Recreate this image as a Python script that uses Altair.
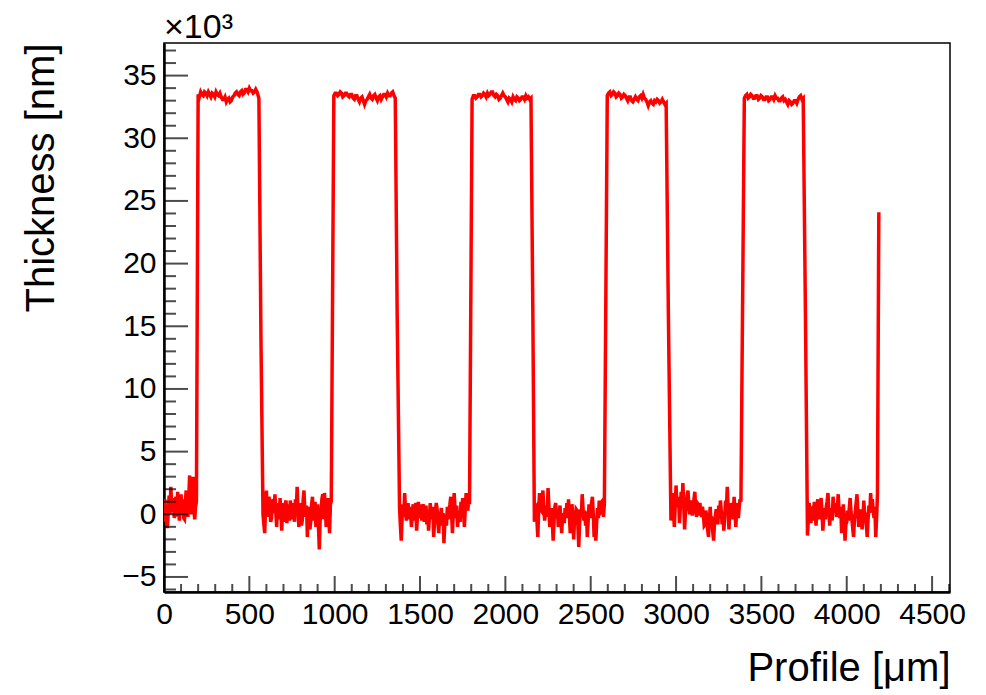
import altair as alt
import pandas as pd

# ---- profile data (thickness in units of 10^3 nm) ----
# each segment: start position [um], sampling step [um], thickness values
v0_start, v0_step = 0, 5
v0 = [0.5, 1.2, -0.6, 0.4, -1.1, 0.2, 1.5, 0.0, 2.2, 0.8, 0.2, 1.3, -0.3, 0.7,
      1.4, -0.2, 1.8, 0.5, -0.5, 0.9, 1.6, 0.1, 1.2, -0.3, -0.4, 1.0, 1.9, 0.2,
      -0.2, 1.2, 3.1, 0.8, 0.0, 1.5, 3.0, 0.4, -0.4, 0.6, 1.0]

p1_start, p1_step = 200, 7.5
p1 = [33.5, 33.3, 33.7, 33.5, 33.4, 33.7, 33.6, 33.4, 33.7, 33.5, 33.3, 33.6,
      33.5, 33.3, 33.7, 33.5, 33.4, 33.6, 33.3, 33.1, 33.1, 33.3, 32.9, 33.1,
      33.2, 32.9, 33.0, 33.3, 33.4, 33.6, 33.7, 33.5, 33.4, 33.7, 33.8, 33.5,
      33.6, 33.9, 33.9, 33.7, 34.0, 33.8, 33.8, 33.6, 33.7, 33.9, 33.7]

v1_start, v1_step = 580, 5
v1 = [0.0, -0.8, -1.5, 0.6, 1.9, -0.2, 0.5, 1.4, 0.9, -0.6, -0.3, 1.0, 1.2, 0.1,
      1.6, 0.2, -1.0, 0.9, 0.4, -0.4, 1.3, 0.2, -1.3, 0.9, 0.3, -0.6, 0.8, 1.1,
      -0.7, 0.8, 0.2, -0.5, 1.1, 0.5, -0.4, 0.9, 0.1, -0.6, 1.2, 0.3, 2.2, 0.5,
      -1.0, 0.9, 0.4, -0.9, -0.5, 1.1, 1.9, 0.4, -0.2, 0.7, -1.8, 0.1, 0.6, -1.2,
      -0.5, 0.8, 1.4, -0.5, 0.0, 1.0, -1.0, 0.3, 0.8, -1.0, -2.8, -0.4, 0.2, 1.2,
      1.6, -0.4, 1.7, 0.6, -1.0, 0.4, 1.3, -0.2, -1.5, 0.8, 1.0]

p2_start, p2_step = 995, 7.5
p2 = [33.4, 33.6, 33.6, 33.4, 33.5, 33.7, 33.6, 33.3, 33.4, 33.6, 33.6, 33.4,
      33.3, 33.5, 33.5, 33.2, 33.1, 33.4, 33.4, 33.1, 32.9, 33.2, 33.3, 33.0,
      32.7, 33.0, 33.1, 33.3, 33.5, 33.2, 33.1, 33.4, 33.5, 33.2, 33.0, 33.3,
      33.4, 33.1, 33.3, 33.5, 33.5, 33.3, 33.6, 33.4, 33.4, 33.6, 33.7, 33.4, 33.2]

v2_start, v2_step = 1380, 5
v2 = [0.5, -0.9, -2.1, -0.3, 0.8, -0.2, 1.7, 0.4, -0.5, 0.5, 0.9, -0.4, 0.6, 0.0,
      -1.0, 0.2, 0.8, -0.5, 0.3, 0.9, -1.3, -0.1, 1.0, -0.3, 0.8, 0.1, -0.5, 0.6,
      0.8, -0.6, 0.0, 0.7, -0.8, 0.2, -1.3, -0.2, 0.9, -0.4, 0.2, 0.6, -1.8, -0.6,
      0.1, 0.9, 0.4, -0.7, -1.5, 0.2, -0.2, 0.5, -0.9, 0.1, -2.3, -0.8, 0.0, -0.9,
      0.6, -0.4, 0.3, 0.8, 1.4, 0.0, -1.5, 0.2, 1.7, 0.5, -0.3, 0.7, -1.0, -0.1,
      0.3, -0.6, 1.0, 0.2, 1.3, 0.1, -1.0, 0.4, 1.7, 0.6, 0.3, 1.2, 0.8]

p3_start, p3_step = 1805, 7.5
p3 = [33.1, 33.4, 33.4, 33.2, 33.3, 33.5, 33.5, 33.3, 33.4, 33.6, 33.5, 33.3,
      33.6, 33.4, 33.5, 33.7, 33.7, 33.4, 33.3, 33.5, 33.4, 33.1, 33.2, 33.4,
      33.6, 33.4, 33.3, 33.1, 32.9, 33.2, 33.1, 32.9, 33.3, 33.1, 33.0, 33.3,
      33.2, 33.0, 33.1, 33.3, 33.3, 33.1, 33.4, 33.2, 33.3, 33.1, 33.2]

v3_start, v3_step = 2170, 5
v3 = [-0.6, 0.5, 0.6, -0.5, -1.8, 0.2, 1.7, 0.4, 0.3, 1.1, 1.9, 0.6, -0.5, 0.3,
      0.7, -0.2, 2.1, 0.7, -1.0, 0.2, 0.5, -0.6, -2.1, -0.6, 0.6, 0.9, -0.3, 0.4,
      -1.0, 0.0, 0.7, -0.4, -1.5, -0.2, 0.1, -0.7, 0.5, -0.3, 0.9, -0.2, 1.2, -0.1,
      -1.5, -0.2, 0.8, 0.1, -2.0, -0.5, -0.8, 0.4, 0.3, -0.9, -2.6, -0.7, 0.4, -0.2,
      1.6, 0.5, -0.5, 0.3, -0.9, 0.2, -1.8, -0.6, 0.8, -0.3, 0.3, 0.9, 1.4, 0.0,
      -1.8, -0.4, -2.1, -0.6, 0.5, -0.3, 1.1, 0.1, 0.2, 1.0, 1.1, -0.2, 0.8]

p4_start, p4_step = 2597, 7.5
p4 = [33.4, 33.6, 33.7, 33.4, 33.5, 33.7, 33.6, 33.3, 33.4, 33.6, 33.5, 33.2,
      33.3, 33.5, 33.4, 33.2, 33.0, 33.3, 33.3, 33.0, 32.9, 33.1, 33.3, 33.1,
      33.0, 33.3, 33.4, 33.2, 33.5, 33.2, 33.1, 32.9, 32.6, 32.9, 33.0, 32.8,
      32.7, 33.0, 32.9, 33.1, 33.0, 32.8, 32.9, 33.1, 32.9, 32.7, 32.8]

v4_start, v4_step = 2970, 5
v4 = [-0.5, 0.8, 1.7, 0.2, -1.0, 0.6, 2.3, 0.9, 0.6, 1.4, -0.7, 0.5, 1.8, 0.7,
      2.5, 0.8, -1.2, 0.1, 0.8, 1.5, 1.9, 0.6, 0.0, 1.1, 0.9, -0.1, 0.3, 1.2,
      1.8, 0.4, -0.2, 0.9, 0.8, -0.1, 0.9, 0.1, -0.2, 0.6, 0.0, -0.9, -0.8, 0.3,
      -0.4, -1.2, -1.8, -0.4, 0.6, -0.6, -0.5, -1.4, -2.1, -0.7, -0.2, 0.4, -0.2,
      -0.8, 0.7, 0.0, 1.1, 0.3, -0.8, 0.2, -1.3, -0.3, 1.1, 0.4, 2.2, 0.5, -1.2,
      0.1, 0.0, 0.9, 0.6, -0.4, 1.4, 0.3, -1.0, 0.2, 0.9, -0.3, 0.6, 1.2, 1.0]

p5_start, p5_step = 3400, 7.5
p5 = [33.2, 33.4, 33.5, 33.2, 33.3, 33.5, 33.4, 33.2, 33.2, 33.4, 33.4, 33.1,
      33.2, 33.4, 33.3, 33.1, 33.1, 33.3, 33.3, 33.0, 33.1, 33.3, 33.3, 33.1,
      33.4, 33.2, 33.2, 33.0, 33.0, 33.2, 33.3, 33.0, 33.1, 32.9, 32.7, 33.0,
      32.9, 32.7, 32.8, 33.0, 33.0, 32.8, 33.1, 33.3, 33.4, 33.1, 33.2]

v5_start, v5_step = 3770, 5
v5 = [-1.7, -0.4, 0.9, 0.1, -0.7, 0.4, 0.5, -0.5, 1.0, 0.2, -0.9, 0.3, 1.2, 0.1,
      -0.4, 0.6, 1.3, 0.2, -1.3, -0.2, 0.5, -0.4, 0.6, 1.0, 1.7, 0.4, -0.9, 0.2,
      0.5, -0.5, 1.4, 0.4, 0.3, 0.9, -0.2, 0.5, 1.6, 0.3, -0.3, 0.6, -1.5, -0.2,
      0.8, -0.4, -2.1, -0.8, -0.6, 0.3, -0.5, 0.5, 1.3, 0.2, -0.4, -1.1, -1.8,
      -0.5, 0.2, 0.9, 1.6, 0.4, -1.0, 0.1, -0.5, 0.4, -1.2, -0.2, 1.1, 0.0, 0.0,
      -0.9, -1.8, -0.4, 0.7, 0.1, 1.7, 0.5, 1.2, 0.3, -0.3, 0.6, -1.8, -0.3, 1.6]

# falling edges (midpoints) and the final rising edge
edge_x = [556, 568, 1366, 2161, 2955, 3758, 4188]
edge_y = [33.2, 14.0, 16.0, 16.0, 16.0, 16.0, 24.1]

# axis ticks and labels
x_major = [0, 500, 1000, 1500, 2000, 2500, 3000, 3500, 4000, 4500]
x_minor = [v for v in range(0, 4601, 100) if v % 500 != 0]
y_major = [-5, 0, 5, 10, 15, 20, 25, 30, 35]
y_minor = [v for v in range(-6, 38) if v % 5 != 0]
exponent_label = ["×10³"]

X_DOMAIN = [0, 4605]
Y_DOMAIN = [-6.2, 37.6]

segments = [
    (v0_start, v0_step, v0), (p1_start, p1_step, p1), (v1_start, v1_step, v1),
    (p2_start, p2_step, p2), (v2_start, v2_step, v2), (p3_start, p3_step, p3),
    (v3_start, v3_step, v3), (p4_start, p4_step, p4), (v4_start, v4_step, v4),
    (p5_start, p5_step, p5), (v5_start, v5_step, v5),
]
pts = []
for start, step, vals in segments:
    for i, v in enumerate(vals):
        pts.append((start + i * step, v))
pts += list(zip(edge_x, edge_y))
pts.sort()
df = pd.DataFrame(pts, columns=["x", "y"])

W, H = 786, 549
FONT = "Liberation Sans"

xs = alt.Scale(domain=X_DOMAIN, nice=False, zero=False)
ys = alt.Scale(domain=Y_DOMAIN, nice=False, zero=False)

x_axis = alt.Axis(
    values=x_major, format="d", ticks=False, tickSize=0, labelFontSize=30,
    labelPadding=7, labelColor="black", domainColor="black", domainWidth=2.5,
    grid=False, labelFlush=False, labelOverlap=False, labelFont=FONT,
    title="Profile [μm]", titleFontSize=40, titleFontWeight="normal",
    titleColor="black", titleFont=FONT, titleAnchor="end", titleAlign="right",
    titleBaseline="alphabetic", titleX=W, titleY=88)
y_axis = alt.Axis(
    values=y_major, format="d", ticks=False, tickSize=0, labelFontSize=30,
    labelPadding=8, labelColor="black", domainColor="black", domainWidth=2.5,
    grid=False, labelFlush=False, labelOverlap=False, labelFont=FONT,
    title="Thickness [nm]", titleFontSize=40, titleFontWeight="normal",
    titleColor="black", titleFont=FONT, titleAngle=270, titleAnchor="end",
    titleAlign="right", titleBaseline="alphabetic", titleX=-111, titleY=0)

line = alt.Chart(df).mark_line(color="#ff0000", strokeWidth=3.5, clip=True).encode(
    x=alt.X("x:Q", scale=xs, axis=x_axis),
    y=alt.Y("y:Q", scale=ys, axis=y_axis),
)

xmaj = alt.Chart(pd.DataFrame({"x": x_major})).mark_tick(
    orient="vertical", size=16, thickness=2, color="black").encode(
    x=alt.X("x:Q", scale=xs, axis=x_axis), y=alt.value(H - 8))
xmin = alt.Chart(pd.DataFrame({"x": x_minor})).mark_tick(
    orient="vertical", size=8, thickness=2, color="black").encode(
    x=alt.X("x:Q", scale=xs, axis=x_axis), y=alt.value(H - 4))
ymaj = alt.Chart(pd.DataFrame({"y": y_major})).mark_tick(
    orient="horizontal", size=24, thickness=2, color="black").encode(
    y=alt.Y("y:Q", scale=ys, axis=y_axis), x=alt.value(12))
ymin = alt.Chart(pd.DataFrame({"y": y_minor})).mark_tick(
    orient="horizontal", size=12, thickness=2, color="black").encode(
    y=alt.Y("y:Q", scale=ys, axis=y_axis), x=alt.value(6))

expo = alt.Chart(pd.DataFrame({"t": exponent_label})).mark_text(
    align="left", baseline="alphabetic", fontSize=34, color="black", font=FONT,
    clip=False).encode(text="t:N", x=alt.value(0), y=alt.value(-5))

chart = alt.layer(line, xmaj, xmin, ymaj, ymin, expo).properties(
    width=W, height=H,
    autosize=alt.AutoSizeParams(type="none"),
    padding={"left": 164, "top": 43, "right": 36, "bottom": 103},
).configure(font=FONT, background="white").configure_view(
    stroke="black", strokeWidth=1.5)

chart.save("out.html", embed_options={"renderer": "svg", "actions": False})
